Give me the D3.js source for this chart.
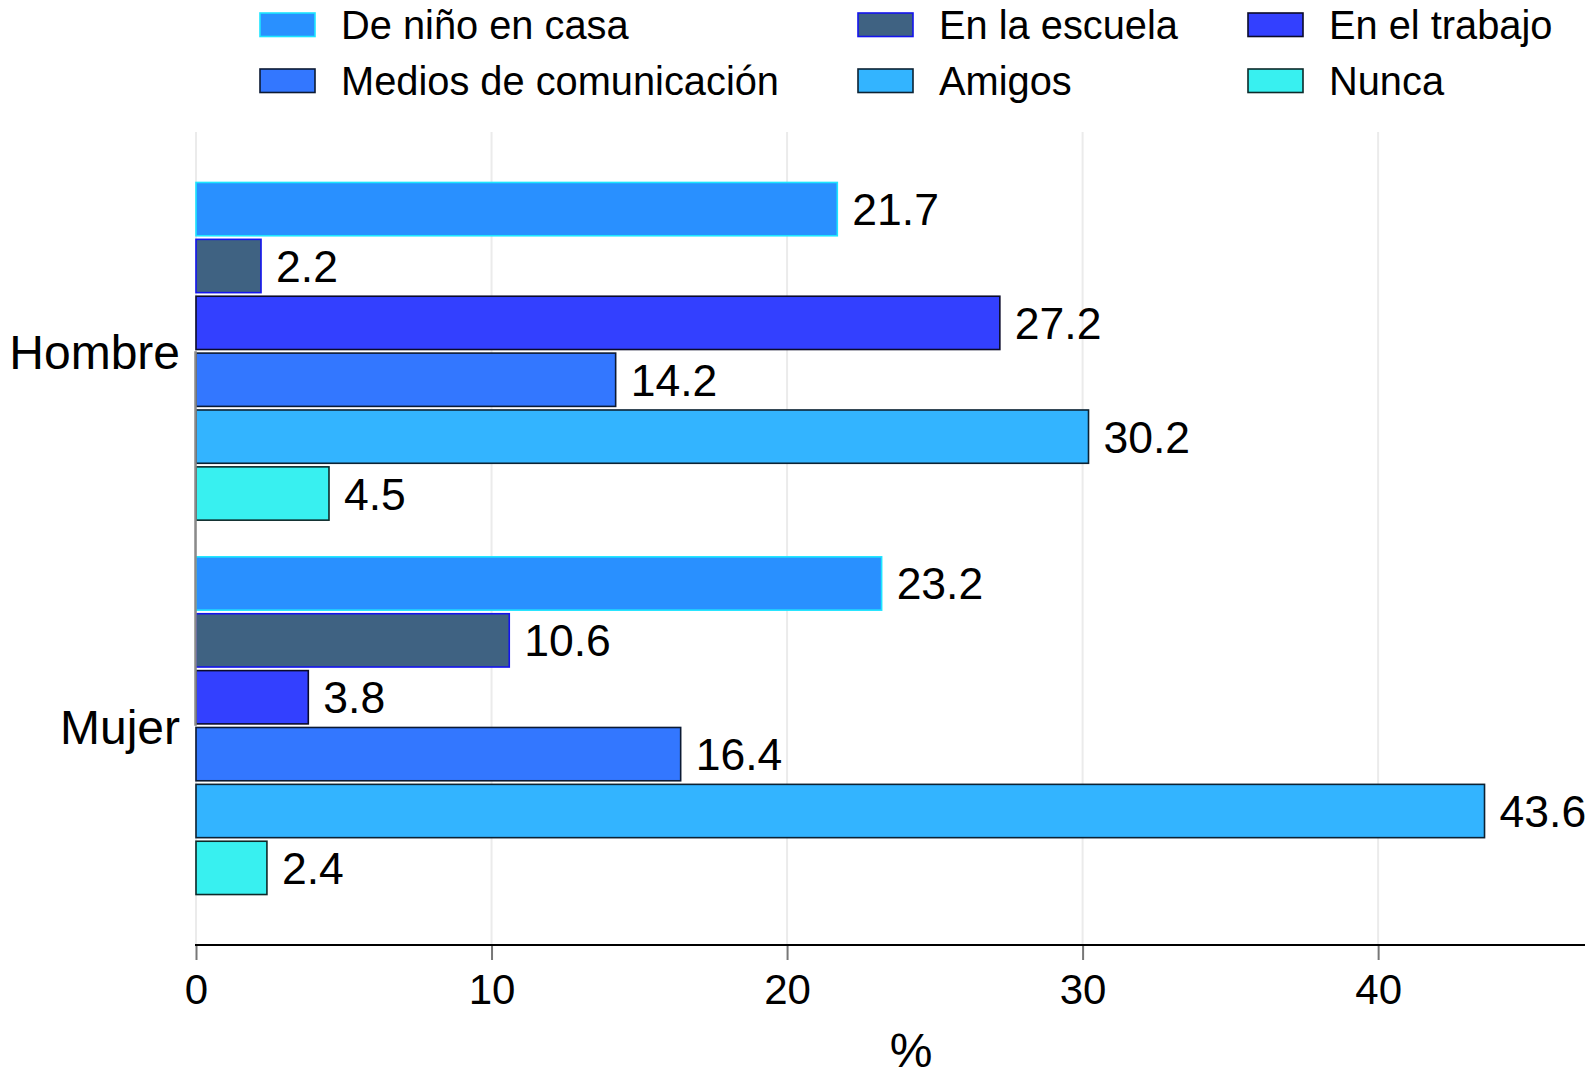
<!DOCTYPE html>
<html>
<head>
<meta charset="utf-8">
<script src="https://cdn.jsdelivr.net/npm/d3@7"></script>
<style>
  html, body { margin: 0; padding: 0; background: #fff; }
  svg { display: block; }
  text { font-family: "Liberation Sans", Arial, Helvetica, sans-serif; fill: #000; }
</style>
</head>
<body>
<svg id="chart" width="1593" height="1078"></svg>
<script>
const categories = ["Hombre", "Mujer"];
const seriesNames = ["De niño en casa", "En la escuela", "En el trabajo", "Medios de comunicación", "Amigos", "Nunca"];
const hombreValues = [21.7, 2.2, 27.2, 14.2, 30.2, 4.5];
const mujerValues = [23.2, 10.6, 3.8, 16.4, 43.6, 2.4];
const xTickValues = [0, 10, 20, 30, 40];
const xTitle = "%";
const seriesFills = ["#2990ff", "#3f6282", "#3340ff", "#3377ff", "#33b4ff", "#38f0f0"];
const seriesStrokes = ["#1de5ff", "#1414ee", "#0b0b2a", "#0c1a33", "#0c2233", "#0c2a2a"];

const valuesByCategory = { "Hombre": hombreValues, "Mujer": mujerValues };

const svg = d3.select("#chart");
const plot = { left: 196, right: 1585, top: 132, bottom: 945 };

const x = d3.scaleLinear().domain([0, 47]).range([plot.left, plot.right]);
const yGroup = d3.scaleBand().domain(categories).range([plot.top, plot.bottom])
  .paddingInner(0.098).paddingOuter(0.1348);
const ySeries = d3.scaleBand().domain(d3.range(seriesNames.length)).range([0, yGroup.bandwidth()])
  .paddingInner(0.063).paddingOuter(0);

// gridlines
svg.append("g").selectAll("line").data(xTickValues).join("line")
  .attr("x1", d => x(d)).attr("x2", d => x(d))
  .attr("y1", plot.top).attr("y2", plot.bottom)
  .attr("stroke", "#ebebeb").attr("stroke-width", 2);

// bars
const rows = [];
categories.forEach(c => {
  valuesByCategory[c].forEach((v, i) => rows.push({ cat: c, i, v }));
});

const barG = svg.append("g");
barG.selectAll("rect").data(rows).join("rect")
  .attr("x", x(0))
  .attr("y", d => yGroup(d.cat) + ySeries(d.i))
  .attr("width", d => x(d.v) - x(0))
  .attr("height", ySeries.bandwidth())
  .attr("fill", d => seriesFills[d.i])
  .attr("stroke", d => seriesStrokes[d.i])
  .attr("stroke-width", 1.6);

barG.selectAll("text").data(rows).join("text")
  .attr("x", d => x(d.v) + 15)
  .attr("y", d => yGroup(d.cat) + ySeries(d.i) + ySeries.bandwidth() / 2 + 16)
  .attr("font-size", 44.5)
  .text(d => d3.format(".1f")(d.v));

// category axis line (between first and last category), drawn over bars
svg.append("line")
  .attr("x1", plot.left - 0.5).attr("x2", plot.left - 0.5)
  .attr("y1", yGroup(categories[0]) + yGroup.bandwidth() / 2)
  .attr("y2", yGroup(categories[categories.length - 1]) + yGroup.bandwidth() / 2)
  .attr("stroke", "#8a8a8a").attr("stroke-width", 2.5);

// category labels
svg.append("g").selectAll("text").data(categories).join("text")
  .attr("x", 180)
  .attr("y", d => yGroup(d) + yGroup.bandwidth() / 2 + 18)
  .attr("text-anchor", "end")
  .attr("font-size", 48)
  .text(d => d);

// x axis
const xAxis = d3.axisBottom(x).tickValues(xTickValues).tickSize(15).tickPadding(14).tickFormat(d3.format("d"));
const axG = svg.append("g").attr("transform", `translate(0,${plot.bottom})`).call(xAxis);
axG.select(".domain").remove();
axG.selectAll(".tick line").attr("stroke", "#777").attr("stroke-width", 2);
axG.selectAll(".tick text").attr("font-size", 42).attr("fill", "#000")
  .attr("font-family", "'Liberation Sans', Arial, Helvetica, sans-serif");
svg.append("line").attr("x1", plot.left - 1).attr("x2", plot.right)
  .attr("y1", plot.bottom).attr("y2", plot.bottom)
  .attr("stroke", "#000").attr("stroke-width", 2);

svg.append("text").attr("x", 911).attr("y", 1067)
  .attr("text-anchor", "middle").attr("font-size", 48).text(xTitle);

// legend
const legendCols = [260, 858, 1248];
const legendRows = [13, 69];
const legG = svg.append("g");
const items = legG.selectAll("g").data(seriesNames).join("g")
  .attr("transform", (d, i) => `translate(${legendCols[i % 3]},${legendRows[Math.floor(i / 3)]})`);
items.append("rect").attr("width", 55).attr("height", 23.5)
  .attr("fill", (d, i) => seriesFills[i])
  .attr("stroke", (d, i) => seriesStrokes[i]).attr("stroke-width", 1.6);
items.append("text").attr("x", 81).attr("y", 26).attr("font-size", 39.8).text(d => d);
</script>
</body>
</html>
